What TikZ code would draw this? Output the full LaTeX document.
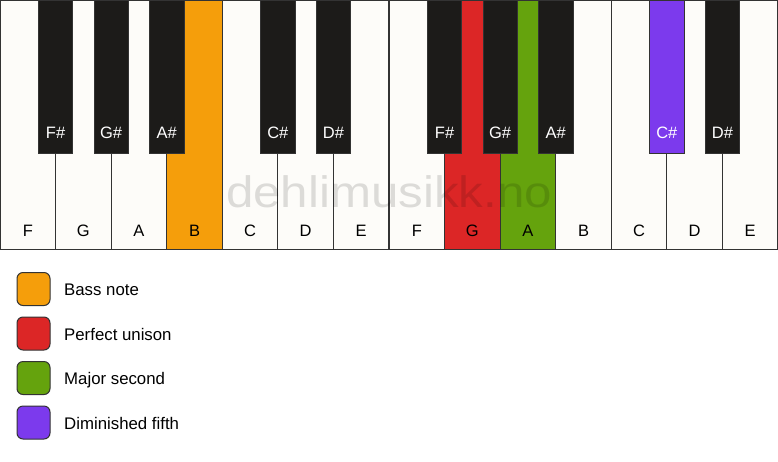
\documentclass[tikz,border=0pt]{standalone}
\usepackage{fontspec}
\setmainfont{Liberation Sans}
\definecolor{keywhite}{HTML}{FDFCF9}
\definecolor{keyblack}{HTML}{1C1B19}
\definecolor{keyline}{HTML}{333333}
\definecolor{bassnote}{HTML}{F59E0B}
\definecolor{unison}{HTML}{DC2626}
\definecolor{second}{HTML}{65A30D}
\definecolor{fifth}{HTML}{7C3AED}

\begin{document}
\begin{tikzpicture}[x=1pt,y=-1pt,
    white key/.style={draw=keyline,line width=1.2pt},
    black key/.style={draw=keyline,line width=0.8pt},
    key label/.style={font=\fontsize{16.5}{16.5}\selectfont,anchor=base,inner sep=0pt},
    swatch/.style={draw=keyline,line width=1pt,rounded corners=6pt,
        minimum size=33pt,inner sep=0pt},
    legend text/.style={font=\fontsize{16.8}{16.8}\selectfont,anchor=base west,
        inner sep=0pt}]
    \useasboundingbox (0,0) rectangle (778,461);
    \fill[white] (0,0) rectangle (778,461);

    % white keys
    \foreach \n/\c [count=\i from 0] in {F/keywhite,G/keywhite,A/keywhite,
        B/bassnote,C/keywhite,D/keywhite,E/keywhite,F/keywhite,G/unison,
        A/second,B/keywhite,C/keywhite,D/keywhite,E/keywhite}
    {
        \draw[white key,fill=\c] (\i*55.57,0) rectangle ++(55.57,249.5);
        \node[key label] (w\i) at (\i*55.57+27.8,236) {\n};
    }

    \node[text=black,text opacity=0.13,font=\fontsize{44}{44}\selectfont,
        anchor=base,inner sep=0pt,xscale=1.12] (mark) at (389,207)
        {dehlimusikk.no};

    % black keys
    \foreach \b/\n/\c/\t in {1/F\#/keyblack/white,2/G\#/keyblack/white,
        3/A\#/keyblack/white,5/C\#/keyblack/white,6/D\#/keyblack/white,
        8/F\#/keyblack/white,9/G\#/keyblack/white,10/A\#/keyblack/white,
        12/C\#/fifth/white,13/D\#/keyblack/white}
    {
        \draw[black key,fill=\c] (\b*55.57-17.2,0) rectangle ++(34.4,153);
        \node[key label,text=\t] (k\b) at (\b*55.57,138.7) {\n};
    }

    \draw[keyline,line width=1.5pt] (0,0) rectangle (778,249.5);

    % legend
    \foreach \c/\t [count=\i from 0] in {bassnote/Bass note,
        unison/Perfect unison,second/Major second,fifth/Diminished fifth}
    {
        \node[swatch,fill=\c] (s\i) at (33.5,289+\i*44.5) {};
        \node[legend text] (l\i) at (64,295.7+\i*44.5) {\t};
    }
\end{tikzpicture}
\end{document}
